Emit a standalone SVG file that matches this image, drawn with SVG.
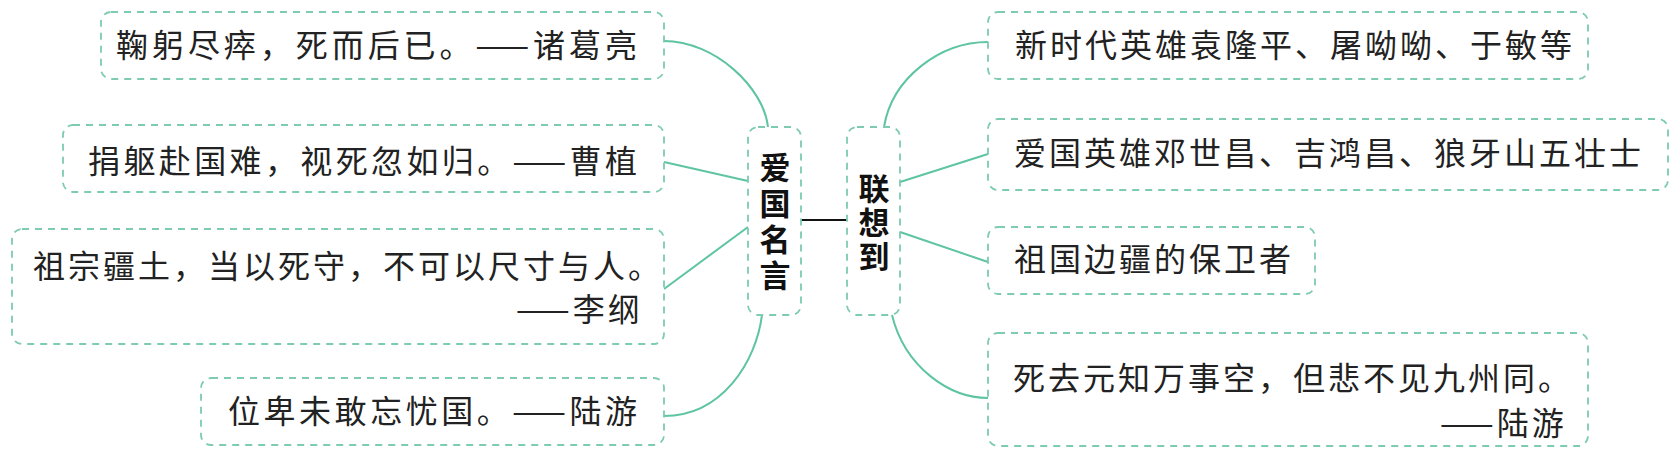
<svg xmlns="http://www.w3.org/2000/svg" width="1677" height="459" viewBox="0 0 1677 459">
<style>
.bg{fill:#ffffff}
.box{fill:#ffffff;stroke:#7dcbb1;stroke-width:1.8;stroke-dasharray:7 6}
.t{font-family:"Noto Sans CJK SC","Noto Sans",sans-serif;font-size:32px;fill:#222222;letter-spacing:3px}
.c{font-family:"Noto Sans CJK SC","Noto Sans",sans-serif;font-size:31px;font-weight:bold;fill:#111111;text-anchor:middle}
.con{fill:none;stroke:#5ec4a2;stroke-width:2}
.mid{fill:none;stroke:#111111;stroke-width:2}
</style>
<rect class="bg" x="0" y="0" width="1677" height="459"/>
<g id="connectors">
<path class="con" d="M664,41 C715,41 764,88 768,127"/>
<path class="con" d="M664,162 L748,181"/>
<path class="con" d="M664,289 L748,227"/>
<path class="con" d="M664,416 C722,416 756,362 762,315"/>
<path class="con" d="M884,127 C892,78 940,42 988,42"/>
<path class="con" d="M900,182 L988,154"/>
<path class="con" d="M900,232 L988,262"/>
<path class="con" d="M892,315 C905,368 950,398 988,398"/>
<path class="mid" d="M801,220 L847,220"/>
</g>
<g id="node-aiguo">
<rect class="box" x="748" y="127" width="53" height="188" rx="10"/>
<text class="c"><tspan x="775" y="179">爱</tspan><tspan x="775" y="215">国</tspan><tspan x="775" y="251">名</tspan><tspan x="775" y="287">言</tspan></text>
</g>
<g id="node-lianxiang">
<rect class="box" x="847" y="127" width="53" height="188" rx="10"/>
<text class="c"><tspan x="874" y="200">联</tspan><tspan x="874" y="234">想</tspan><tspan x="874" y="268">到</tspan></text>
</g>
<g id="node-zhuge">
<rect class="box" x="101" y="12" width="563" height="67" rx="10"/>
<text class="t" x="116" y="57" textLength="524" lengthAdjust="spacing">鞠躬尽瘁，死而后已。——诸葛亮</text>
</g>
<g id="node-caozhi">
<rect class="box" x="63" y="125" width="601" height="67" rx="10"/>
<text class="t" x="88" y="173" textLength="552" lengthAdjust="spacing">捐躯赴国难，视死忽如归。——曹植</text>
</g>
<g id="node-ligang">
<rect class="box" x="12" y="229" width="652" height="115" rx="10"/>
<text class="t" x="33" y="278">祖宗疆土，当以死守，不可以尺寸与人。</text>
<text class="t" x="516" y="321">——李纲</text>
</g>
<g id="node-luyou1">
<rect class="box" x="201" y="378" width="463" height="67" rx="10"/>
<text class="t" x="228" y="423" textLength="412" lengthAdjust="spacing">位卑未敢忘忧国。——陆游</text>
</g>
<g id="node-xinshidai">
<rect class="box" x="988" y="12" width="600" height="67" rx="10"/>
<text class="t" x="1015" y="57">新时代英雄袁隆平、屠呦呦、于敏等</text>
</g>
<g id="node-aiguoyingxiong">
<rect class="box" x="988" y="119" width="680" height="71" rx="10"/>
<text class="t" x="1014" y="165">爱国英雄邓世昌、吉鸿昌、狼牙山五壮士</text>
</g>
<g id="node-bianjiang">
<rect class="box" x="988" y="227" width="327" height="67" rx="10"/>
<text class="t" x="1014" y="271">祖国边疆的保卫者</text>
</g>
<g id="node-luyou2">
<rect class="box" x="988" y="333" width="600" height="113" rx="10"/>
<text class="t" x="1013" y="390">死去元知万事空，但悲不见九州同。</text>
<text class="t" x="1440" y="435">——陆游</text>
</g>
</svg>
